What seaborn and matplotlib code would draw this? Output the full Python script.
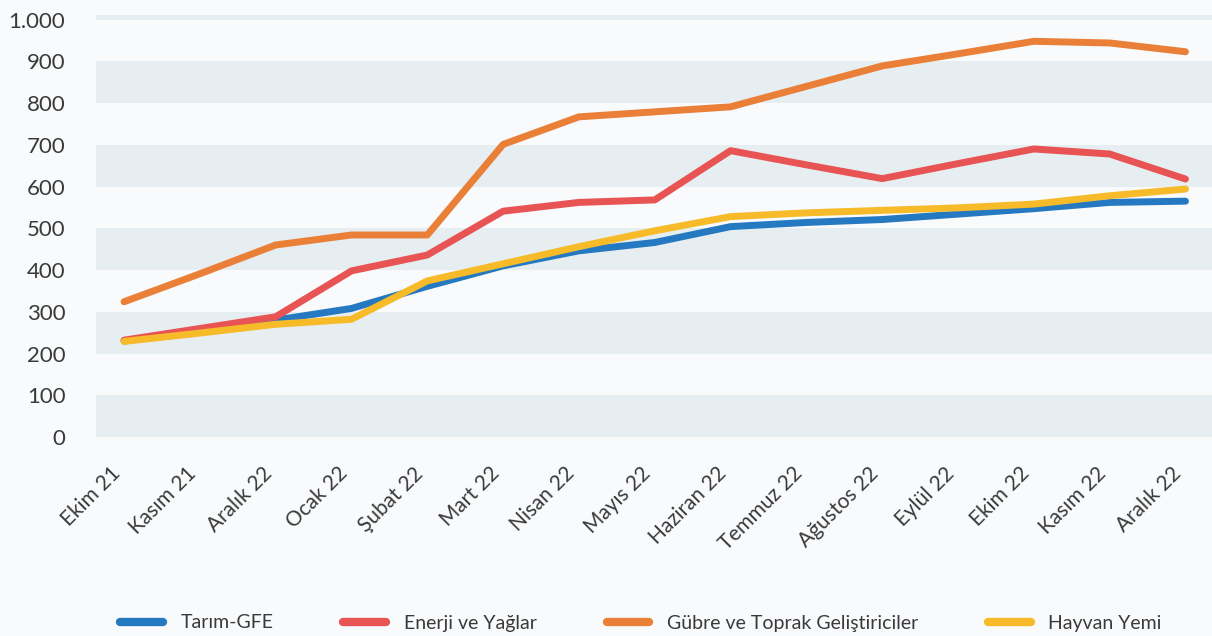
import matplotlib
matplotlib.use("Agg")
import matplotlib.pyplot as plt
import matplotlib.transforms as mtransforms
from matplotlib.lines import Line2D
import seaborn as sns
import pandas as pd

# ---- data ----
months = ["Ekim 21", "Kasım 21", "Aralık 22", "Ocak 22", "Şubat 22", "Mart 22",
          "Nisan 22", "Mayıs 22", "Haziran 22", "Temmuz 22", "Ağustos 22",
          "Eylül 22", "Ekim 22", "Kasım 22", "Aralık 22"]
series_names = ["Tarım-GFE", "Enerji ve Yağlar", "Gübre ve Toprak Geliştiriciler", "Hayvan Yemi"]
tarim = [230, 254, 280, 308, 361, 410, 446, 466, 504, 514, 521, 534, 547, 562, 565]
enerji = [232, 260, 288, 398, 436, 541, 562, 568, 686, 652, 619, 655, 690, 678, 618]
gubre = [324, 391, 460, 484, 484, 701, 767, 779, 791, 840, 889, 918, 948, 944, 923]
yem = [229, 249, 270, 282, 374, 415, 456, 494, 528, 537, 543, 549, 558, 578, 594]
yticks = [0, 100, 200, 300, 400, 500, 600, 700, 800, 900, 1000]

colors = ["#2479c1", "#e85454", "#ea8038", "#f7bb2a"]
BG = "#f8fafc"
BAND = "#e7eef1"
TXT = "#3a3a3a"

sns.set_theme(style="white")
plt.rcParams["font.family"] = ["Lato", "DejaVu Sans"]

rows = []
for name, vals in zip(series_names, [tarim, enerji, gubre, yem]):
    for i, v in enumerate(vals):
        rows.append({"pos": i, "value": v, "series": name})
df = pd.DataFrame(rows)

fig = plt.figure(figsize=(12.12, 6.36), dpi=100, facecolor=BG)
ax = fig.add_axes([96 / 1212, 1 - 437 / 636, 1 - 96 / 1212, 422 / 636])
ax.set_facecolor(BG)

# alternating horizontal bands
for lo in range(0, 1100, 200):
    ax.axhspan(lo, lo + 100, color=BAND, zorder=0, lw=0)

sns.lineplot(data=df, x="pos", y="value", hue="series", hue_order=series_names,
             palette=colors, linewidth=5, sort=False, legend=False, ax=ax)
for ln in ax.lines:
    ln.set_solid_capstyle("round")
    ln.set_solid_joinstyle("round")

ax.set_xlim(-0.37, 14.35)
ax.set_ylim(0, 1011)
for s in ax.spines.values():
    s.set_visible(False)
ax.grid(False)
ax.set_xlabel("")
ax.set_ylabel("")

ax.set_yticks(yticks)
ax.set_yticklabels([f"{v:,}".replace(",", ".") for v in yticks],
                   fontsize=16, color=TXT)
ax.set_xticks(range(len(months)))
ax.set_xticklabels(months, rotation=45, ha="right", va="top",
                   fontsize=15, color=TXT)
offset = mtransforms.ScaledTranslation(6 / 100, 0, fig.dpi_scale_trans)
for lab in ax.get_xticklabels():
    lab.set_transform(lab.get_transform() + offset)
ax.tick_params(axis="both", length=0)
ax.tick_params(axis="y", pad=22)
ax.tick_params(axis="x", pad=19)

handles = [Line2D([0], [0], color=c, lw=6, solid_capstyle="round") for c in colors]
leg = fig.legend(handles, series_names, loc="center",
                 bbox_to_anchor=(641 / 1212, 1 - 623 / 636), ncol=4,
                 frameon=False, fontsize=14, handlelength=2.2,
                 handletextpad=0.9, columnspacing=3.6)
for t in leg.get_texts():
    t.set_color(TXT)

fig.savefig("out.png", dpi=100, facecolor=BG)
